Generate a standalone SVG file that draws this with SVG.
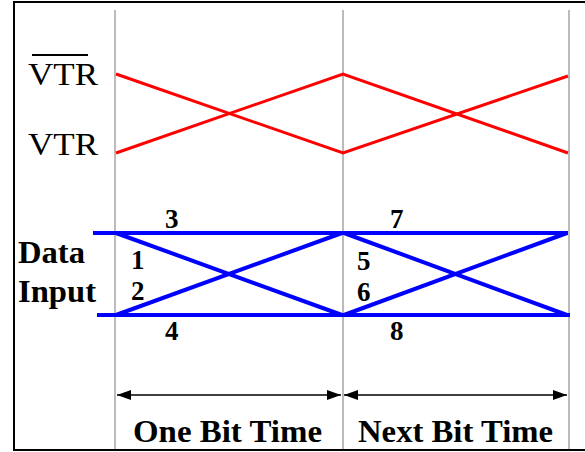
<svg xmlns="http://www.w3.org/2000/svg" width="585" height="452" viewBox="0 0 585 452">
<style>
.lbl{font-family:"Liberation Serif","Times New Roman",serif;fill:#000}
.big{font-size:31px}
.bold{font-weight:bold}
.dig{font-size:27px;font-weight:bold}
.grid{stroke:#bbbbbb;stroke-width:2;fill:none}
.red{stroke:#ff0000;stroke-width:3;fill:none}
.blue{stroke:#0000ff;stroke-width:4;fill:none}
.arr{stroke:#000;stroke-width:1.5;fill:none}
</style>
<defs>
<marker id="ah" viewBox="0 0 14 10" refX="14" refY="5" markerWidth="14" markerHeight="10" markerUnits="userSpaceOnUse" orient="auto-start-reverse">
<path d="M0,0 L14,5 L0,10 Z" fill="#000"/>
</marker>
</defs>
<rect x="0" y="0" width="585" height="452" fill="#fff"/>
<rect x="14" y="2" width="600" height="448" fill="none" stroke="#000" stroke-width="2"/>
<g id="gridlines">
<line class="grid" x1="115" y1="10" x2="115" y2="449"/>
<line class="grid" x1="343" y1="10" x2="343" y2="449"/>
<line class="grid" x1="569" y1="10" x2="569" y2="449"/>
</g>
<g id="vtr-signal">
<polyline class="red" points="116,74 343,153 568,76"/>
<polyline class="red" points="116,153 343,74 568,153"/>
</g>
<g id="data-signal">
<line class="blue" x1="93" y1="233" x2="568" y2="233"/>
<line class="blue" x1="97" y1="315" x2="570" y2="315"/>
<line class="blue" x1="116" y1="233" x2="342" y2="315"/>
<line class="blue" x1="116" y1="315" x2="342" y2="233"/>
<line class="blue" x1="344" y1="233" x2="567" y2="315"/>
<line class="blue" x1="344" y1="315" x2="567" y2="233"/>
</g>
<g id="label-vtrbar">
<text class="lbl big" x="28" y="85" textLength="70" lengthAdjust="spacingAndGlyphs">VTR</text>
<line x1="32" y1="55" x2="88" y2="55" stroke="#000" stroke-width="2"/>
</g>
<g id="label-vtr">
<text class="lbl big" x="28" y="155" textLength="70" lengthAdjust="spacingAndGlyphs">VTR</text>
</g>
<g id="label-data-input">
<text class="lbl big bold" x="18" y="263" textLength="67" lengthAdjust="spacingAndGlyphs">Data</text>
<text class="lbl big bold" x="18" y="302" textLength="78" lengthAdjust="spacingAndGlyphs">Input</text>
</g>
<g id="digits">
<text class="lbl dig" x="165" y="228">3</text>
<text class="lbl dig" x="131" y="269">1</text>
<text class="lbl dig" x="131" y="300">2</text>
<text class="lbl dig" x="165" y="340">4</text>
<text class="lbl dig" x="390" y="228">7</text>
<text class="lbl dig" x="357" y="270">5</text>
<text class="lbl dig" x="357" y="301">6</text>
<text class="lbl dig" x="390" y="340">8</text>
</g>
<g id="connectors">
<line class="arr" x1="117" y1="395" x2="341" y2="395" marker-start="url(#ah)" marker-end="url(#ah)"/>
<line class="arr" x1="344" y1="395" x2="567" y2="395" marker-start="url(#ah)" marker-end="url(#ah)"/>
</g>
<g id="label-one-bit">
<text class="lbl big bold" x="133" y="442" textLength="189" lengthAdjust="spacingAndGlyphs">One Bit Time</text>
</g>
<g id="label-next-bit">
<text class="lbl big bold" x="358" y="442" textLength="195" lengthAdjust="spacingAndGlyphs">Next Bit Time</text>
</g>
</svg>
